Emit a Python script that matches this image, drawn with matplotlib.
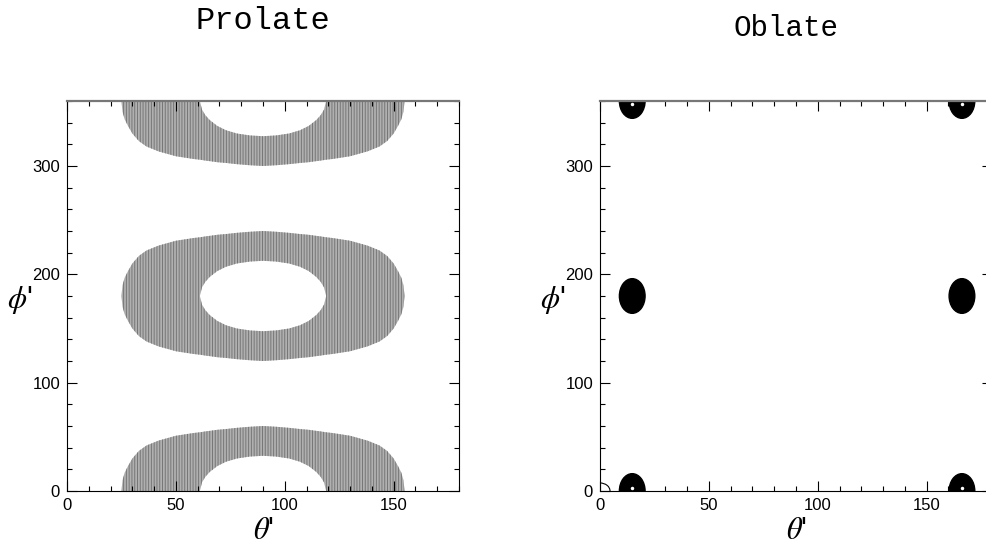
import numpy as np
import matplotlib.pyplot as plt
from matplotlib.patches import Ellipse

plt.rcParams['mathtext.fontset'] = 'stix'
plt.rcParams['font.family'] = 'Liberation Sans'
plt.rcParams['hatch.linewidth'] = 0.7

# Prolate: banda sombreada, mitad izquierda (theta <= 90), se refleja en theta = 90
theta_izq = np.array([25, 25.5, 26.5, 28, 30, 33, 36.5, 42, 50, 58, 61, 62, 63.5,
                      65.5, 69, 73, 78, 84, 90])
h_ext_izq = np.array([0, 10, 17, 23, 30, 37, 42, 46.5, 51, 53.5, 54.2, 54.5, 55,
                      55.5, 56.5, 57.2, 58.3, 59.3, 60])
h_int_izq = np.array([0, 0, 0, 0, 0, 0, 0, 0, 0, 0, 0, 8, 13,
                      17.5, 23, 27, 30, 31.8, 32.5])
centros_phi = [0, 180, 360]

theta_p = np.concatenate([theta_izq, 180 - theta_izq[-2::-1]])
h_ext = np.concatenate([h_ext_izq, h_ext_izq[-2::-1]])
h_int = np.concatenate([h_int_izq, h_int_izq[-2::-1]])

# Oblate: manchas negras
blob_theta = [14.8, 166.2]
blob_phi = [0, 180, 360]
blob_ancho = 11.8
blob_alto = 32.0
punto_theta = [14.8, 166.2]
punto_phi = [3, 357]
arco_ancho, arco_alto = 4.6, 7.4   # semiejes del arco en el origen

fig = plt.figure(figsize=(9.86, 5.49), dpi=100)
ax1 = fig.add_axes([67/986, 58/549, 392/986, 390/549])
ax2 = fig.add_axes([600/986, 58/549, 392/986, 390/549])

for c in centros_phi:
    for lo, hi in [(c + h_int, c + h_ext), (c - h_ext, c - h_int)]:
        ax1.fill_between(theta_p, lo, hi, facecolor='#b0b0b0', edgecolor='#767676',
                         hatch='||||||', linewidth=0)

for t in blob_theta:
    for p in blob_phi:
        ax2.add_patch(Ellipse((t, p), blob_ancho, blob_alto, facecolor='black',
                              edgecolor='black', lw=1))
for t in punto_theta:
    for p in punto_phi:
        ax2.plot(t, p, 'o', color='white', ms=2.5, mec='none')
ax2.add_patch(Ellipse((0, 0), 2*arco_ancho, 2*arco_alto, facecolor='none',
                      edgecolor='black', lw=0.8))

for ax in (ax1, ax2):
    ax.set_xlim(0, 180)
    ax.set_ylim(0, 360)
    ax.set_xticks([0, 50, 100, 150])
    ax.set_xticks(np.arange(0, 181, 10), minor=True)
    ax.set_yticks([0, 100, 200, 300])
    ax.set_yticks(np.arange(0, 361, 20), minor=True)
    ax.tick_params(which='both', direction='in', top=True, right=True,
                   labelsize=12, color='black', width=0.8)
    ax.tick_params(which='major', length=7, pad=5)
    ax.tick_params(which='minor', length=3.5)
    for s in ax.spines.values():
        s.set_linewidth(0.8)
    ax.spines['top'].set_color('#777777')
    ax.spines['top'].set_linewidth(1.6)
    ax.set_xlabel(r"$\theta$'", fontsize=22, labelpad=2)
    ax.set_ylabel(r"$\phi$'", fontsize=22, rotation=0, va='center', ha='center')
    ax.yaxis.set_label_coords(-0.12, 0.49)

fig.text(263/986, 1 - 21/549, 'Prolate', family='Liberation Mono', fontsize=23,
         ha='center', va='center')
fig.text(786/986, 1 - 28/549, 'Oblate', family='Liberation Mono', fontsize=21,
         ha='center', va='center')

fig.savefig('out.png', dpi=100)
